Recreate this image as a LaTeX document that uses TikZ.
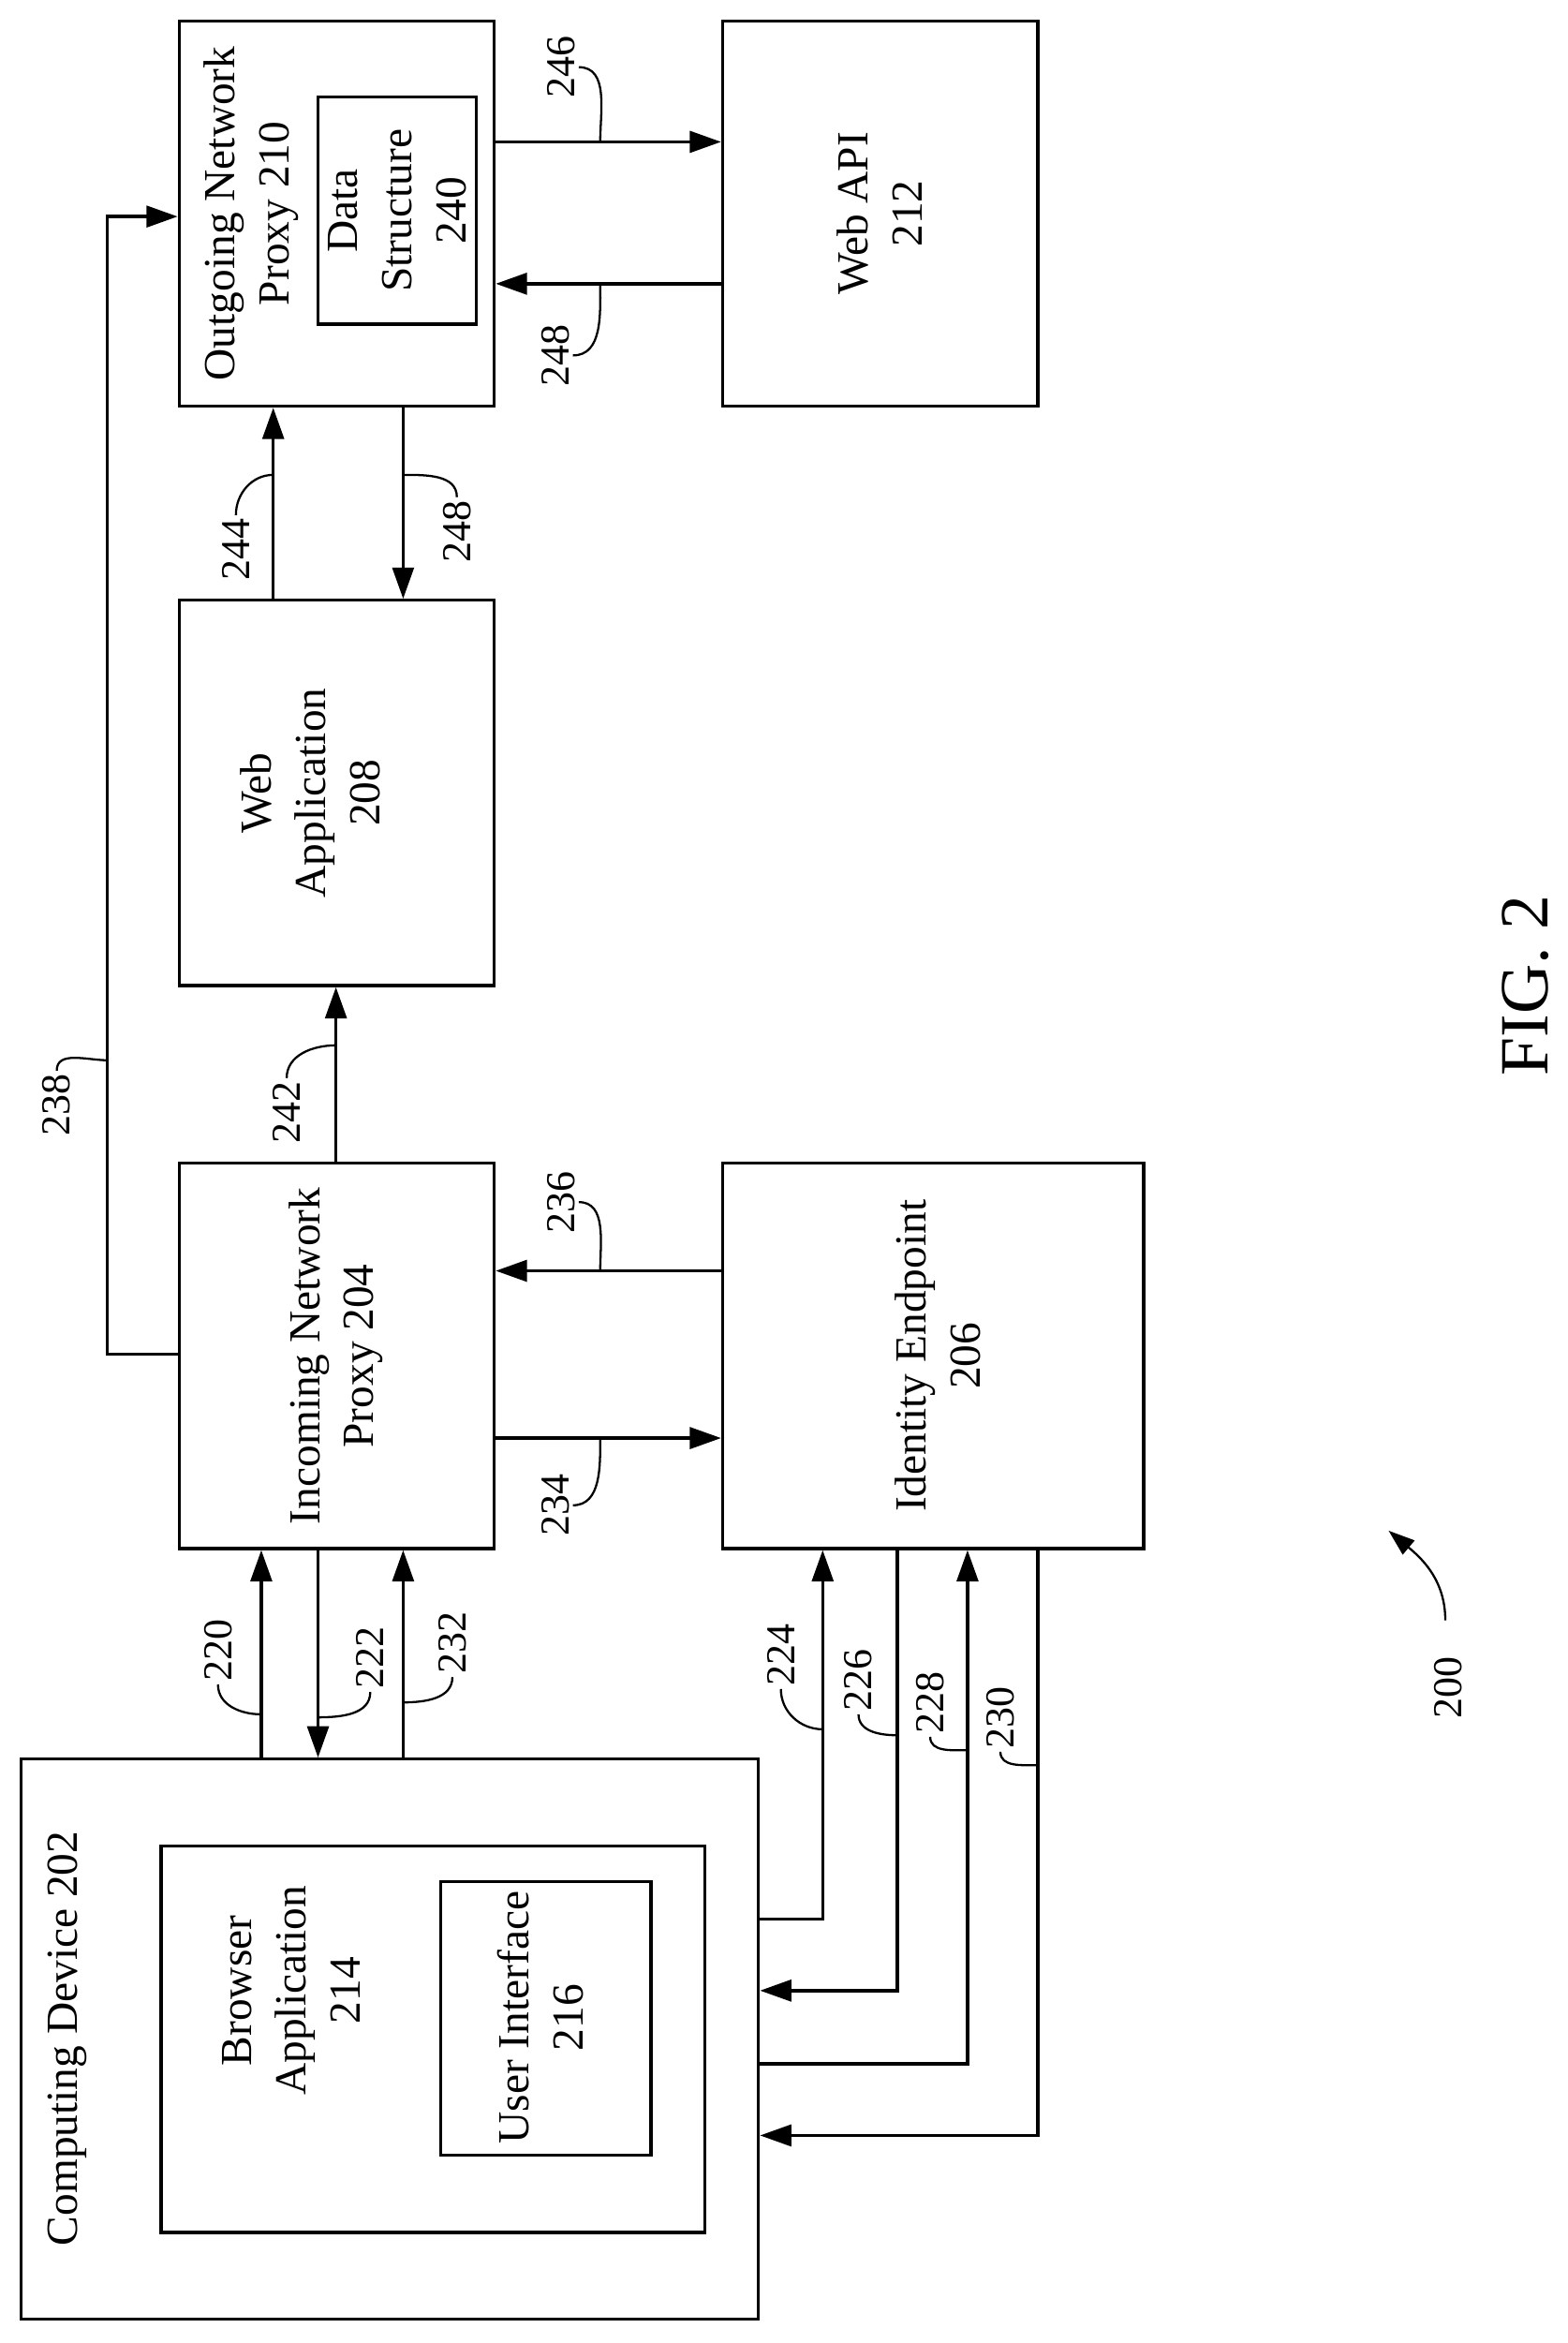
\documentclass[tikz,border=0pt]{standalone}
\usepackage{fontspec}
\setmainfont{Liberation Serif}
\usetikzlibrary{arrows.meta}
\begin{document}
\begin{tikzpicture}[x=0.0319cm,y=-0.0319cm,
 box/.style={draw,line width=1.9pt,inner sep=0pt},
 txt/.style={rotate=90,align=center,font=\fontsize{27}{33}\selectfont},
 lbl/.style={rotate=90,font=\fontsize{25}{30}\selectfont,inner sep=2pt},
 ar/.style={line width=1.9pt,-{Triangle[length=19pt,width=13pt]}},
 ld/.style={line width=1.3pt}]
\useasboundingbox (0,0) rectangle (1050,1569);
\node[box,minimum width=211*0.0319cm,minimum height=258*0.0319cm] (op) at (225.5,143) {};
\node[box,minimum width=106*0.0319cm,minimum height=152*0.0319cm] (ds) at (266,141) {};
\node[box,minimum width=211*0.0319cm,minimum height=258*0.0319cm] (api) at (589.5,143) {};
\node[box,minimum width=211*0.0319cm,minimum height=258*0.0319cm] (wa) at (225.5,531) {};
\node[box,minimum width=211*0.0319cm,minimum height=258*0.0319cm] (ip) at (225.5,908) {};
\node[box,minimum width=282*0.0319cm,minimum height=258*0.0319cm] (ie) at (625,908) {};
\node[box,minimum width=494*0.0319cm,minimum height=375*0.0319cm] (cd) at (261,1365.5) {};
\node[box,minimum width=364*0.0319cm,minimum height=259*0.0319cm] (ba) at (290,1365.5) {};
\node[box,minimum width=141*0.0319cm,minimum height=183*0.0319cm] (ui) at (365.5,1351.5) {};
% texts
\node[txt] (t1) at (168,143) {Outgoing Network\\Proxy 210};
\node[txt] (t2) at (266,141) {Data\\Structure\\240};
\node[txt] (t3) at (589,143) {Web API\\212};
\node[txt] (t4) at (208,531) {Web\\Application\\208};
\node[txt] (t5) at (225,908) {Incoming Network\\Proxy 204};
\node[txt] (t6) at (628,908) {Identity Endpoint\\206};
\node[txt] (t7) at (45,1365) {Computing Device 202};
\node[txt] (t8) at (195,1333) {Browser\\Application\\214};
\node[txt] (t9) at (362,1351) {User Interface\\216};
\node[rotate=90,font=\fontsize{42}{48}\selectfont] (fig) at (1022,660) {FIG. 2};
% arrows
\draw[ar] (op.east |- 0,95) -- (api.west |- 0,95);
\draw[ar] (api.west |- 0,190) -- (op.east |- 0,190);
\draw[ar] (183,0 |- wa.north) -- (183,0 |- op.south);
\draw[ar] (270,0 |- op.south) -- (270,0 |- wa.north);
\draw[ar] (225,0 |- ip.north) -- (225,0 |- wa.south);
\draw[ar] (ip.west |- 0,907) -- (72,907) -- (72,145) -- (op.west |- 0,145);
\draw[ar] (ie.west |- 0,851) -- (ip.east |- 0,851);
\draw[ar] (ip.east |- 0,963) -- (ie.west |- 0,963);
\draw[ar] (175,0 |- cd.north) -- (175,0 |- ip.south);
\draw[ar] (213,0 |- ip.south) -- (213,0 |- cd.north);
\draw[ar] (270,0 |- cd.north) -- (270,0 |- ip.south);
\draw[ar] (cd.east |- 0,1285) -- (551,1285) -- (551,0 |- ie.south);
\draw[ar] (601,0 |- ie.south) -- (601,1333) -- (cd.east |- 0,1333);
\draw[ar] (cd.east |- 0,1382) -- (648,1382) -- (648,0 |- ie.south);
\draw[ar] (695,0 |- ie.south) -- (695,1430) -- (cd.east |- 0,1430);
% labels and leaders
\node[lbl] (l246) at (376,45) {246};
\draw[ld] (l246.south) to[out=0,in=90] (402,95);
\node[lbl] (l248a) at (372,238) {248};
\draw[ld] (l248a.south) to[out=0,in=-90] (402,190);
\node[lbl] (l244) at (158,368) {244};
\draw[ld] (l244.east) to[out=90,in=180] (183,318);
\node[lbl] (l248b) at (306,356) {248};
\draw[ld] (l248b.east) to[out=90,in=0] (270,318);
\node[lbl] (l242) at (192,745) {242};
\draw[ld] (l242.east) to[out=90,in=180] (225,700);
\node[lbl] (l238) at (38,740) {238};
\draw[ld] (l238.east) to[out=90,in=180] (72,710);
\node[lbl] (l236) at (376,805) {236};
\draw[ld] (l236.south) to[out=0,in=90] (402,851);
\node[lbl] (l234) at (372,1008) {234};
\draw[ld] (l234.south) to[out=0,in=-90] (402,963);
\node[lbl] (l220) at (146,1105) {220};
\draw[ld] (l220.west) to[out=-90,in=180] (175,1148);
\node[lbl] (l222) at (248,1110) {222};
\draw[ld] (l222.west) to[out=-90,in=0] (213,1150);
\node[lbl] (l232) at (303,1100) {232};
\draw[ld] (l232.west) to[out=-90,in=0] (270,1140);
\node[lbl] (l224) at (523,1108) {224};
\draw[ld] (l224.west) to[out=-90,in=180] (551,1158);
\node[lbl] (l226) at (575,1125) {226};
\draw[ld] (l226.west) to[out=-90,in=180] (601,1162);
\node[lbl] (l228) at (623,1140) {228};
\draw[ld] (l228.west) to[out=-90,in=180] (648,1172);
\node[lbl] (l230) at (670,1150) {230};
\draw[ld] (l230.west) to[out=-90,in=180] (695,1182);
\node[lbl] (l200) at (970,1130) {200};
\draw[ld,-{Triangle[length=16pt,width=11pt]}] (968,1085) to[out=90,in=-40] (930,1025);
\end{tikzpicture}
\end{document}
